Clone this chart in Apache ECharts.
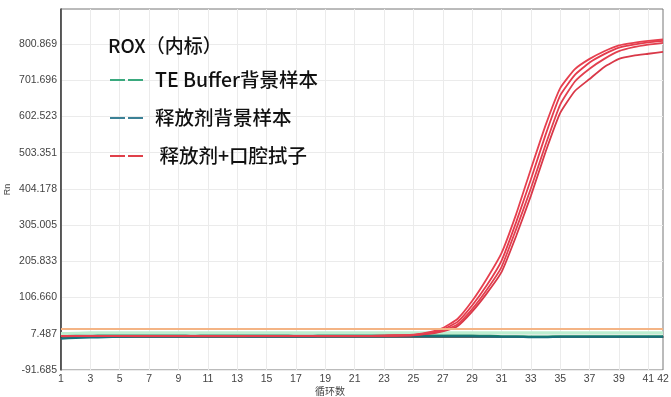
<!DOCTYPE html>
<html>
<head>
<meta charset="utf-8">
<script src="https://cdn.jsdelivr.net/npm/echarts@6/dist/echarts.min.js"></script>
<style>
html, body { margin: 0; padding: 0; background: #fff; }
#chart { width: 671px; height: 397px; }
</style>
</head>
<body>
<div id="chart"></div>
<script>
// 循环数 1..42
var cycles = [];
for (var i = 1; i <= 42; i++) cycles.push(String(i));

// Y 轴刻度
var yTicks = [-91.685, 7.487, 106.660, 205.833, 305.005, 404.178, 503.351, 602.523, 701.696, 800.869];
var yLabels = ['-91.685', '7.487', '106.660', '205.833', '305.005', '404.178', '503.351', '602.523', '701.696', '800.869'];
var yMin = -91.685;
var yMax = 896.5;

// 阈值线
var threshold = 20;

// TE Buffer 背景样本
var teBuffer = [1, 2, 2, 3, 3, 3, 3, 3, 3, 2, 3, 3, 3, 3, 3, 3, 2, 2, 3, 3, 3, 3, 3, 3, 3, 3, 3, 3, 3, 2, 1, 1, 0, 0, 1, 1, 1, 1, 1, 1, 1, 1];
var teBufferLight = [8, 9, 10, 10, 10, 10, 10, 10, 10, 10, 10, 10, 10, 10, 10, 10, 10, 10, 10, 10, 10, 10, 10, 10, 10, 10, 10, 10, 10, 10, 10, 10, 10, 10, 10, 10, 10, 10, 10, 10, 10, 10];
// 释放剂背景样本
var releaseBg = [-6, -4, -3, -2, -1, 0, 0, 0, 0, 0, 1, 1, 1, 0, 0, 0, 0, 0, 1, 1, 1, 1, 1, 1, 1, 1, 1, 1, 1, 0, -1, -1, -2, -2, -1, -1, -1, -1, -1, -1, -1, -1];
// 释放剂+口腔拭子
var swabA = [2, 2, 2, 2, 2, 2, 2, 2, 2, 2, 2, 2, 2, 2, 2, 2, 2, 2, 2, 2, 2, 2, 3, 3, 5, 11, 23, 48, 97, 158, 228, 335, 458, 578, 680, 732, 760, 781, 797, 804, 809, 813];
var swabB = [2, 2, 2, 2, 2, 2, 2, 2, 2, 2, 2, 2, 2, 2, 2, 2, 2, 2, 2, 2, 2, 2, 2, 3, 4, 9, 19, 40, 85, 140, 207, 313, 430, 552, 660, 716, 750, 773, 791, 799, 805, 809];
var swabC = [2, 2, 2, 2, 2, 2, 2, 2, 2, 2, 2, 2, 2, 2, 2, 2, 2, 2, 2, 2, 2, 2, 2, 3, 4, 8, 16, 33, 75, 128, 190, 294, 405, 525, 635, 698, 733, 760, 781, 792, 799, 804];
var swabD = [2, 2, 2, 2, 2, 2, 2, 2, 2, 2, 2, 2, 2, 2, 2, 2, 2, 2, 2, 2, 2, 2, 2, 2, 3, 7, 14, 28, 68, 118, 176, 275, 385, 505, 612, 672, 705, 738, 760, 769, 774, 779];

var nameTE = 'TE Buffer背景样本';
var nameRel = '释放剂背景样本';
var nameSwab = '释放剂+口腔拭子';

var chart = echarts.init(document.getElementById('chart'));

function line(name, data, color, width) {
	return {
		name: name,
		type: 'line',
		data: data,
		showSymbol: false,
		smooth: 0.15,
		silent: true,
		lineStyle: { color: color, width: width },
		itemStyle: { color: color }
	};
}

var dash = 'path://M0,0H15V2H0Z M18,0H33V2H18Z';

var series = [
	line(nameTE, teBufferLight, '#bdeed0', 3),
	line(nameTE, teBuffer, '#1b9060', 2),
	line(nameRel, releaseBg, '#16707a', 2),
	line(nameSwab, swabD, '#d93848', 1.8),
	line(nameSwab, swabC, '#e2404f', 1.8),
	line(nameSwab, swabB, '#e43b4c', 1.8),
	line(nameSwab, swabA, '#e6404f', 1.8)
];
// 阈值线
series[0].markLine = {
	silent: true,
	symbol: 'none',
	label: { show: false },
	lineStyle: { color: '#f4b485', width: 2, type: 'solid' },
	data: [{ yAxis: threshold }]
};

var option = {
	animation: false,
	title: {
		text: 'ROX（内标）',
		left: 103,
		top: 31,
		textStyle: { fontSize: 19, fontWeight: 500, color: '#111', fontFamily: 'Noto Sans CJK SC' }
	},
	legend: {
		orient: 'vertical',
		left: 105,
		top: 64,
		itemGap: 16,
		itemWidth: 33,
		itemHeight: 2,
		selectedMode: false,
		formatter: function (n) { return n === nameSwab ? ' ' + n : n; },
		textStyle: { fontSize: 19.5, fontWeight: 500, color: '#111', lineHeight: 22, fontFamily: 'Noto Sans CJK SC', padding: [0, 0, 0, 7] },
		data: [
			{ name: nameTE, icon: dash, itemStyle: { color: '#3aa97e' } },
			{ name: nameRel, icon: dash, itemStyle: { color: '#3b8196' } },
			{ name: nameSwab, icon: dash, itemStyle: { color: '#e0404a' } }
		]
	},
	grid: {
		left: 61,
		right: 8,
		top: 9,
		bottom: 27,
		containLabel: false,
		outerBoundsMode: 'none',
		show: true,
		borderColor: '#777',
		borderWidth: 1
	},
	xAxis: {
		type: 'category',
		data: cycles,
		boundaryGap: false,
		name: '循环数',
		nameLocation: 'middle',
		nameGap: 16,
		nameMoveOverlap: false,
		nameTextStyle: { fontSize: 10, color: '#444', padding: [0, 64, 0, 0], fontFamily: 'Noto Sans CJK SC' },
		axisLine: { lineStyle: { color: '#333', width: 1.5 } },
		axisTick: { show: false },
		axisLabel: {
			interval: function (idx) { return idx % 2 === 0 || idx === 41; },
			color: '#444',
			fontSize: 10.5,
			fontFamily: 'Liberation Sans',
			margin: 4
		},
		splitLine: {
			show: true,
			interval: function (idx) { return idx % 2 === 0; },
			lineStyle: { color: '#ebebeb' }
		}
	},
	yAxis: {
		type: 'value',
		min: yMin,
		max: yMax,
		name: 'Rn',
		nameLocation: 'middle',
		nameGap: 49,
		nameMoveOverlap: false,
		nameTextStyle: { fontSize: 9, color: '#444', fontFamily: 'Liberation Sans' },
		axisLine: { show: true, lineStyle: { color: '#333', width: 1.5 } },
		axisTick: { show: false, customValues: yTicks },
		axisLabel: {
			customValues: yTicks,
			color: '#444',
			fontSize: 10.5,
			fontFamily: 'Liberation Sans',
			margin: 4,
			formatter: function (v) {
				var best = 0;
				for (var k = 1; k < yTicks.length; k++) {
					if (Math.abs(yTicks[k] - v) < Math.abs(yTicks[best] - v)) best = k;
				}
				return yLabels[best];
			}
		},
		splitLine: { show: true, lineStyle: { color: '#ebebeb' } }
	},
	series: series
};

chart.setOption(option);
window.onresize = function () {
	chart.resize();
};
</script>
</body>
</html>
